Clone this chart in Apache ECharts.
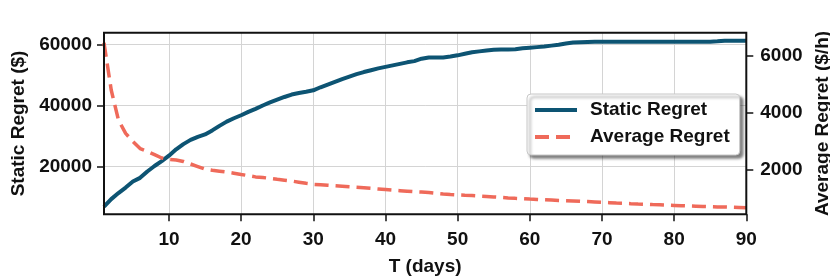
<!DOCTYPE html>
<html>
<head>
<meta charset="utf-8">
<script src="https://cdn.jsdelivr.net/npm/echarts@6/dist/echarts.min.js"></script>
<style>html,body{margin:0;padding:0;background:#fff}#c{width:830px;height:277px}</style>
</head>
<body>
<div id="c"></div>
<script>
var days = [1,2,3,4,5,6,7,8,9,10,11,12,13,14,15,16,17,18,19,20,21,22,23,24,25,26,27,28,29,30,
31,32,33,34,35,36,37,38,39,40,41,42,43,44,45,46,47,48,49,50,51,52,53,54,55,56,57,58,59,60,
61,62,63,64,65,66,67,68,69,70,71,72,73,74,75,76,77,78,79,80,81,82,83,84,85,86,87,88,89,90];
var xTicks = [10,20,30,40,50,60,70,80,90];
var leftTicks = [20000,40000,60000];
var rightTicks = [2000,4000,6000];
var staticRegret = [6700,9200,11200,13000,15000,16200,18300,20100,21700,23500,
25600,27300,28700,29700,30500,31800,33300,34700,35800,36800,
37900,38900,40000,41000,41900,42800,43600,44100,44500,45000,
46000,46900,47800,48700,49500,50300,51000,51600,52200,52700,
53200,53700,54200,54600,55400,55800,55800,55800,56100,56500,
57000,57500,57800,58100,58300,58400,58400,58500,58800,59000,
59200,59400,59700,60000,60400,60700,60800,60900,61000,61000,
61000,61000,61000,61000,61000,61000,61000,61000,61000,61000,
61000,61000,60950,61000,61000,61100,61300,61300,61300,61300];
var averageRegret = [6450,4800,3750,3280,3000,2750,2650,2540,2420,2370,
2350,2300,2210,2120,2030,1990,1960,1930,1890,1845,
1805,1760,1739,1708,1676,1646,1615,1575,1534,1500,
1484,1466,1448,1432,1414,1397,1378,1358,1338,1318,
1298,1279,1260,1241,1231,1213,1187,1163,1145,1130,
1118,1106,1091,1076,1060,1043,1025,1009,997,983,
970,958,948,938,929,920,907,896,884,871,
859,847,836,824,813,803,792,782,772,763,
753,744,735,726,718,710,705,697,689,681];

var FONT = 'Liberation Sans, Arial, sans-serif';
var txt = {fontFamily: FONT, fontWeight: 'bold', fontSize: 19, color: '#111'};
function plain(v) { return String(v); }
function isTick(i, v) { return xTicks.indexOf(+v) >= 0; }
var tickStyle = {color: '#111', width: 1.5};
var chart = echarts.init(document.getElementById('c'), null, {renderer: 'canvas'});
chart.setOption({
  animation: false,
  backgroundColor: '#fff',
  grid: {left: 104, right: 83.7, top: 32.7, bottom: 62.7, containLabel: false, outerBoundsMode: 'none',
    show: true, borderColor: '#111', borderWidth: 2, backgroundColor: 'transparent', z: 10},
  legend: {
    orient: 'vertical', left: 527, top: 94,
    padding: [6, 10, 8, 6], itemGap: 7,
    itemWidth: 42, itemHeight: 16,
    itemStyle: {opacity: 0},
    lineStyle: {width: 4},
    backgroundColor: '#fff', borderColor: '#c8c8c8', borderWidth: 1, borderRadius: 4,
    shadowColor: 'rgba(0,0,0,0.5)', shadowBlur: 3, shadowOffsetX: 3, shadowOffsetY: 3,
    textStyle: Object.assign({}, txt, {padding: [0, 0, 0, 8], lineHeight: 20}),
    data: ['Static Regret', 'Average Regret']
  },
  xAxis: {
    type: 'category', data: days, boundaryGap: false,
    name: 'T (days)', nameLocation: 'middle', nameGap: 43, nameTextStyle: txt,
    axisLine: {show: false},
    axisTick: {show: true, length: 7, lineStyle: tickStyle, interval: isTick},
    axisLabel: Object.assign({}, txt, {margin: 16, interval: isTick}),
    splitLine: {show: true, lineStyle: {color: '#d4d4d4', width: 1}, interval: isTick}
  },
  yAxis: [{
    type: 'value', min: 4213, max: 63947, position: 'left',
    name: 'Static Regret ($)', nameLocation: 'middle', nameRotate: 90, nameGap: 63, nameTextStyle: txt,
    axisLine: {show: false},
    axisTick: {show: true, length: 7, lineStyle: tickStyle, customValues: leftTicks},
    axisLabel: Object.assign({}, txt, {margin: 12, customValues: leftTicks, formatter: plain}),
    splitLine: {show: true, lineStyle: {color: '#d4d4d4', width: 1}}
  }, {
    type: 'value', min: 451, max: 6804, position: 'right',
    name: 'Average Regret ($/h)', nameLocation: 'middle', nameRotate: 90, nameGap: 58, nameTextStyle: txt,
    axisLine: {show: false},
    axisTick: {show: true, length: 7, lineStyle: tickStyle, customValues: rightTicks},
    axisLabel: Object.assign({}, txt, {margin: 14, customValues: rightTicks, formatter: plain}),
    splitLine: {show: false}
  }],
  series: [{
    name: 'Static Regret', type: 'line', yAxisIndex: 0, data: staticRegret,
    symbol: 'none', smooth: false,
    lineStyle: {color: '#0d5473', width: 4},
    itemStyle: {color: '#0d5473'}
  }, {
    name: 'Average Regret', type: 'line', yAxisIndex: 1, data: averageRegret,
    symbol: 'none', smooth: false,
    lineStyle: {color: '#ef6a5a', width: 3.5, type: [14, 7]},
    itemStyle: {color: '#ef6a5a'}
  }]
});
</script>
</body>
</html>
